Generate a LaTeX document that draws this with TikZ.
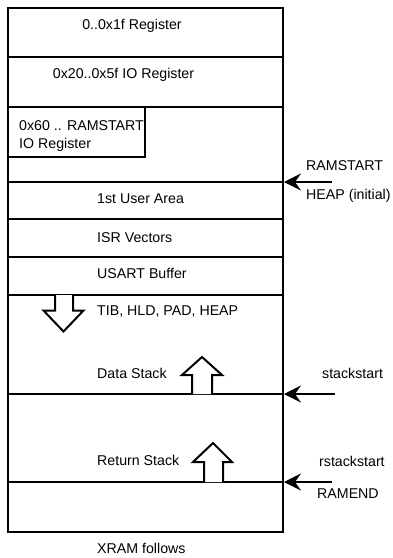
\documentclass[tikz,border=0pt]{standalone}
\usepackage{fontspec}
\setmainfont{Liberation Sans}
\usetikzlibrary{arrows.meta}
\begin{document}
\begin{tikzpicture}[x=1pt,y=-1pt,
  txt/.style={inner sep=0pt,font=\fontsize{14.2}{16}\selectfont},
  lbl/.style={txt,anchor=base west},
  ctr/.style={txt,anchor=base},
  frame/.style={line width=2pt,line join=miter},
  sep/.style={line width=1.8pt},
  blockarrow/.style={line width=2pt,fill=white,line join=miter},
  pointer/.style={line width=2pt,-{Stealth[length=17pt,width=17pt,inset=6pt]}}]
\useasboundingbox (0,0) rectangle (392,558);
% outer frame
\draw[frame] (7.5,7.5) rectangle (282.5,531.5);
% separators
\draw[sep] (7.5,57) -- (282.5,57);
\draw[sep] (7.5,107) -- (282.5,107);
\draw[sep] (7.5,182) -- (282.5,182);
\draw[sep] (7.5,219) -- (282.5,219);
\draw[sep] (7.5,257) -- (282.5,257);
\draw[sep] (7.5,295) -- (282.5,295);
\draw[sep] (7.5,394) -- (282.5,394);
\draw[sep] (7.5,482) -- (282.5,482);
% inner box
\draw[sep] (7.5,157) -- (145,157) -- (145,107);
% texts
\node[ctr] (r0) at (132,29) {0..0x1f Register};
\node[ctr] (r1) at (123.5,78) {0x20..0x5f IO Register};
\node[lbl] (r2a) at (19,130) {0x60 .. RAMSTART};
\node[lbl] (r2b) at (19,148) {IO Register};
\node[lbl] (ua) at (97,203) {1st User Area};
\node[lbl] (isr) at (97,242) {ISR Vectors};
\node[lbl] (usart) at (97,278) {USART Buffer};
\node[lbl] (tib) at (97,315) {TIB, HLD, PAD, HEAP};
\node[lbl] (ds) at (97,378) {Data Stack};
\node[lbl] (rs) at (97,465) {Return Stack};
\node[lbl] (xram) at (97,553) {XRAM follows};
\node[lbl] (rsl) at (306,170) {RAMSTART};
\node[lbl] (heap) at (306,199) {HEAP (initial)};
\node[lbl] (ssl) at (322,378) {stackstart};
\node[lbl] (rssl) at (319,466) {rstackstart};
\node[lbl] (rel) at (317,498) {RAMEND};
% block arrows
\draw[blockarrow] (55,295) -- (55,310.5) -- (43.5,310.5) -- (63.5,331.5) -- (83.5,310.5) -- (73,310.5) -- (73,295);
\draw[blockarrow] (192,394) -- (192,375) -- (182,375) -- (202,357) -- (222,375) -- (212,375) -- (212,394);
\draw[blockarrow] (204,482) -- (204,462) -- (193,462) -- (213,443) -- (232,462) -- (223,462) -- (223,482);
% pointers
\coordinate (p1s) at (332,182); \coordinate (p1e) at (284,182);
\coordinate (p2s) at (335,394); \coordinate (p2e) at (284,394);
\coordinate (p3s) at (332,482); \coordinate (p3e) at (284,482);
\draw[pointer] (p1s) -- (p1e);
\draw[pointer] (p2s) -- (p2e);
\draw[pointer] (p3s) -- (p3e);
\end{tikzpicture}
\end{document}
